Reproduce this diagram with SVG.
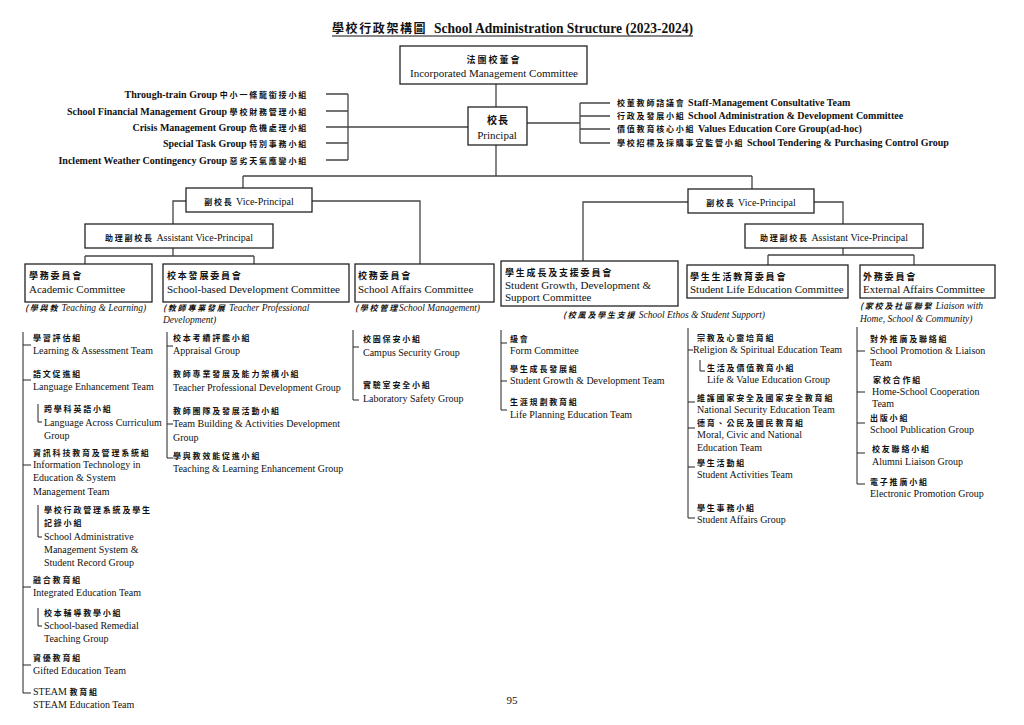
<svg xmlns="http://www.w3.org/2000/svg" width="1024" height="725" viewBox="0 0 1024 725">
<style>
text { font-family: "Liberation Serif", "Times New Roman", "Noto Sans CJK TC", serif; font-size: 10px; fill: #111; }
.zh { font-family: "Noto Sans CJK TC", "Noto Sans CJK SC", sans-serif; font-size: 8px; font-weight: bold; letter-spacing: 1.8px; }
.b { font-weight: bold; }
.it { font-style: italic; font-size: 9.5px; }
.box { fill: #fff; stroke: #222; stroke-width: 1.3; }
.con { fill: none; stroke: #444; stroke-width: 1.3; }
.thin { fill: none; stroke: #222; stroke-width: 1; }
.cn { font-size: 11px; }
</style>
<rect width="1024" height="725" fill="#fff"/>

<g id="title">
<text x="332" y="33" class="zh" style="font-size:12px;letter-spacing:1.6px">學校行政架構圖</text>
<text x="434" y="33" class="b" style="font-size:14px" textLength="259" lengthAdjust="spacingAndGlyphs">School Administration Structure (2023-2024)</text>
<line x1="332" y1="36" x2="693" y2="36" stroke="#111" stroke-width="1"/>
</g>

<g id="connectors">
<path class="con" d="M496 84V107M496 145V176M243 176H752M243 176V188M752 176V189"/>
<path class="con" d="M468 127H348M348 94V160M326 94H348M326 111H348M326 127H348M326 143H348M326 160H348"/>
<path class="con" d="M527 123H580M580 103V143M580 103H610M580 116H610M580 129H610M580 143H610"/>
<path class="con" d="M186 201H173V224M312 201H420V264M173 248V256M85 256H254M85 256V264M254 256V264"/>
<path class="con" d="M688 202H583V261M814 202H843V224M843 248V255M768 255H914M768 255V265M914 255V265"/>
<path class="thin" d="M23 332V693H31M23 345H31M23 380H31M23 465H31M23 587H31M23 665H31"/>
<path class="thin" d="M38 404V422H42M38 505V537H42M38 608V626H42"/>
<path class="thin" d="M167 332V458H173M167 346H173M167 424H173"/>
<path class="thin" d="M353 330V400H359M353 347H359"/>
<path class="thin" d="M501 330V410H507M501 343H507M501 381H507"/>
<path class="thin" d="M688 328V518H695M688 350H693M688 402H695M688 428H695M688 467H695"/>
<path class="thin" d="M700 360V371H705"/>
<path class="thin" d="M857 327V484H865M857 351H865M857 392H865M857 423H865M857 453H865"/>
</g>

<g id="left-groups">
<text x="308" y="98" text-anchor="end" class="b">Through-train Group <tspan class="zh">中小一條龍銜接小組</tspan></text>
<text x="308" y="115" text-anchor="end" class="b">School Financial Management Group <tspan class="zh">學校財務管理小組</tspan></text>
<text x="308" y="131" text-anchor="end" class="b">Crisis Management Group <tspan class="zh">危機處理小組</tspan></text>
<text x="308" y="147" text-anchor="end" class="b">Special Task Group <tspan class="zh">特別事務小組</tspan></text>
<text x="308" y="164" text-anchor="end" class="b">Inclement Weather Contingency Group <tspan class="zh">惡劣天氣應變小組</tspan></text>
</g>

<g id="right-groups">
<text x="617" y="106" class="b"><tspan class="zh">校董教師諮議會</tspan> Staff-Management Consultative Team</text>
<text x="617" y="119" class="b"><tspan class="zh">行政及發展小組</tspan> School Administration &amp; Development Committee</text>
<text x="617" y="132" class="b"><tspan class="zh">價值教育核心小組</tspan> Values Education Core Group(ad-hoc)</text>
<text x="617" y="146" class="b"><tspan class="zh">學校招標及採購事宜監管小組</tspan> School Tendering &amp; Purchasing Control Group</text>
</g>

<g id="imc">
<rect class="box" x="400" y="46" width="187" height="38"/>
<text x="494" y="63" text-anchor="middle" class="zh" style="font-size:9px;letter-spacing:2px">法團校董會</text>
<text x="494" y="77" text-anchor="middle" class="cn">Incorporated Management Committee</text>
</g>

<g id="principal">
<rect class="box" x="468" y="107" width="59" height="38"/>
<text x="498" y="124" text-anchor="middle" class="zh" style="font-size:10px;letter-spacing:1px">校長</text>
<text x="497" y="139" text-anchor="middle" class="cn">Principal</text>
</g>

<g id="vp-left">
<rect class="box" x="186" y="188" width="126" height="24"/>
<text x="249" y="205" text-anchor="middle"><tspan class="zh">副校長</tspan> Vice-Principal</text>
</g>
<g id="avp-left">
<rect class="box" x="85" y="224" width="188" height="24"/>
<text x="179" y="241" text-anchor="middle"><tspan class="zh">助理副校長</tspan> Assistant Vice-Principal</text>
</g>
<g id="vp-right">
<rect class="box" x="688" y="189" width="126" height="24"/>
<text x="751" y="206" text-anchor="middle"><tspan class="zh">副校長</tspan> Vice-Principal</text>
</g>
<g id="avp-right">
<rect class="box" x="745" y="224" width="178" height="24"/>
<text x="834" y="241" text-anchor="middle"><tspan class="zh">助理副校長</tspan> Assistant Vice-Principal</text>
</g>

<g id="academic">
<rect class="box" x="25" y="264" width="127" height="38"/>
<text x="29" y="279" class="zh" style="font-size:9px">學務委員會</text>
<text x="29" y="293" class="cn">Academic Committee</text>
<text x="25" y="311" class="it"><tspan class="zh">(學與教</tspan> Teaching &amp; Learning)</text>
<g id="academic-teams">
<text x="33" y="341" class="zh">學習評估組</text>
<text x="33" y="354">Learning &amp; Assessment Team</text>
<text x="33" y="377" class="zh">語文促進組</text>
<text x="33" y="390">Language Enhancement Team</text>
<text x="44" y="412" class="zh">跨學科英語小組</text>
<text x="44" y="426">Language Across Curriculum</text>
<text x="44" y="439">Group</text>
<text x="33" y="456" class="zh">資訊科技教育及管理系統組</text>
<text x="33" y="468">Information Technology in</text>
<text x="33" y="481">Education &amp; System</text>
<text x="33" y="495">Management Team</text>
<text x="44" y="513" class="zh">學校行政管理系統及學生</text>
<text x="44" y="526" class="zh">記錄小組</text>
<text x="44" y="540">School Administrative</text>
<text x="44" y="553">Management System &amp;</text>
<text x="44" y="566">Student Record Group</text>
<text x="33" y="583" class="zh">融合教育組</text>
<text x="33" y="596">Integrated Education Team</text>
<text x="44" y="616" class="zh">校本輔導教學小組</text>
<text x="44" y="629">School-based Remedial</text>
<text x="44" y="642">Teaching Group</text>
<text x="33" y="661" class="zh">資優教育組</text>
<text x="33" y="674">Gifted Education Team</text>
<text x="33" y="695">STEAM <tspan class="zh">教育組</tspan></text>
<text x="33" y="708">STEAM Education Team</text>
</g>
</g>

<g id="school-dev">
<rect class="box" x="163" y="264" width="186" height="38"/>
<text x="167" y="279" class="zh" style="font-size:9px">校本發展委員會</text>
<text x="167" y="293" class="cn">School-based Development Committee</text>
<text x="163" y="311" class="it"><tspan class="zh">(教師專業發展</tspan> Teacher Professional</text>
<text x="163" y="323" class="it">Development)</text>
<g id="school-dev-groups">
<text x="173" y="341" class="zh">校本考績評鑑小組</text>
<text x="173" y="354">Appraisal Group</text>
<text x="173" y="377" class="zh">教師專業發展及能力架構小組</text>
<text x="173" y="391">Teacher Professional Development Group</text>
<text x="173" y="414" class="zh">教師團隊及發展活動小組</text>
<text x="173" y="427">Team Building &amp; Activities Development</text>
<text x="173" y="441">Group</text>
<text x="173" y="459" class="zh">學與教效能促進小組</text>
<text x="173" y="472">Teaching &amp; Learning Enhancement Group</text>
</g>
</g>

<g id="school-affairs">
<rect class="box" x="355" y="264" width="139" height="38"/>
<text x="358" y="279" class="zh" style="font-size:9px">校務委員會</text>
<text x="358" y="293" class="cn">School Affairs Committee</text>
<text x="355" y="311" class="it"><tspan class="zh">(學校管理</tspan>School Management)</text>
<g id="school-affairs-groups">
<text x="363" y="342" class="zh">校園保安小組</text>
<text x="363" y="356">Campus Security Group</text>
<text x="363" y="388" class="zh">實驗室安全小組</text>
<text x="363" y="402">Laboratory Safety Group</text>
</g>
</g>

<g id="student-growth">
<rect class="box" x="501" y="261" width="177" height="45"/>
<text x="505" y="276" class="zh" style="font-size:9px">學生成長及支援委員會</text>
<text x="505" y="289" class="cn">Student Growth, Development &amp;</text>
<text x="505" y="301" class="cn">Support Committee</text>
<text x="563" y="318" class="it"><tspan class="zh">(校風及學生支援</tspan> School Ethos &amp; Student Support)</text>
<g id="student-growth-groups">
<text x="510" y="342" class="zh">級會</text>
<text x="510" y="354">Form Committee</text>
<text x="510" y="372" class="zh">學生成長發展組</text>
<text x="510" y="384">Student Growth &amp; Development Team</text>
<text x="510" y="405" class="zh">生涯規劃教育組</text>
<text x="510" y="418">Life Planning Education Team</text>
</g>
</g>

<g id="student-life">
<rect class="box" x="687" y="265" width="161" height="33"/>
<text x="690" y="280" class="zh" style="font-size:9px">學生生活教育委員會</text>
<text x="690" y="293" class="cn">Student Life Education Committee</text>
<g id="student-life-groups">
<text x="697" y="341" class="zh">宗教及心靈培育組</text>
<text x="693" y="353">Religion &amp; Spiritual Education Team</text>
<text x="707" y="371" class="zh">生活及價值教育小組</text>
<text x="707" y="383">Life &amp; Value Education Group</text>
<text x="697" y="401" class="zh">維護國家安全及國家安全教育組</text>
<text x="697" y="413">National Security Education Team</text>
<text x="697" y="426" class="zh">德育、公民及國民教育組</text>
<text x="697" y="438">Moral, Civic and National</text>
<text x="697" y="451">Education Team</text>
<text x="697" y="466" class="zh">學生活動組</text>
<text x="697" y="478">Student Activities Team</text>
<text x="697" y="511" class="zh">學生事務小組</text>
<text x="697" y="523">Student Affairs Group</text>
</g>
</g>

<g id="external-affairs">
<rect class="box" x="860" y="265" width="135" height="33"/>
<text x="863" y="280" class="zh" style="font-size:9px">外務委員會</text>
<text x="863" y="293" class="cn">External Affairs Committee</text>
<text x="860" y="309" class="it"><tspan class="zh">(家校及社區聯繫</tspan> Liaison with</text>
<text x="860" y="322" class="it">Home, School &amp; Community)</text>
<g id="external-affairs-groups">
<text x="870" y="342" class="zh">對外推廣及聯絡組</text>
<text x="870" y="354">School Promotion &amp; Liaison</text>
<text x="870" y="366">Team</text>
<text x="873" y="383" class="zh">家校合作組</text>
<text x="872" y="395">Home-School Cooperation</text>
<text x="872" y="407">Team</text>
<text x="870" y="421" class="zh">出版小組</text>
<text x="870" y="433">School Publication Group</text>
<text x="872" y="452" class="zh">校友聯絡小組</text>
<text x="872" y="465">Alumni Liaison Group</text>
<text x="870" y="485" class="zh">電子推廣小組</text>
<text x="870" y="497">Electronic Promotion Group</text>
</g>
</g>

<text x="512" y="704" text-anchor="middle" style="font-size:11px">95</text>
</svg>
